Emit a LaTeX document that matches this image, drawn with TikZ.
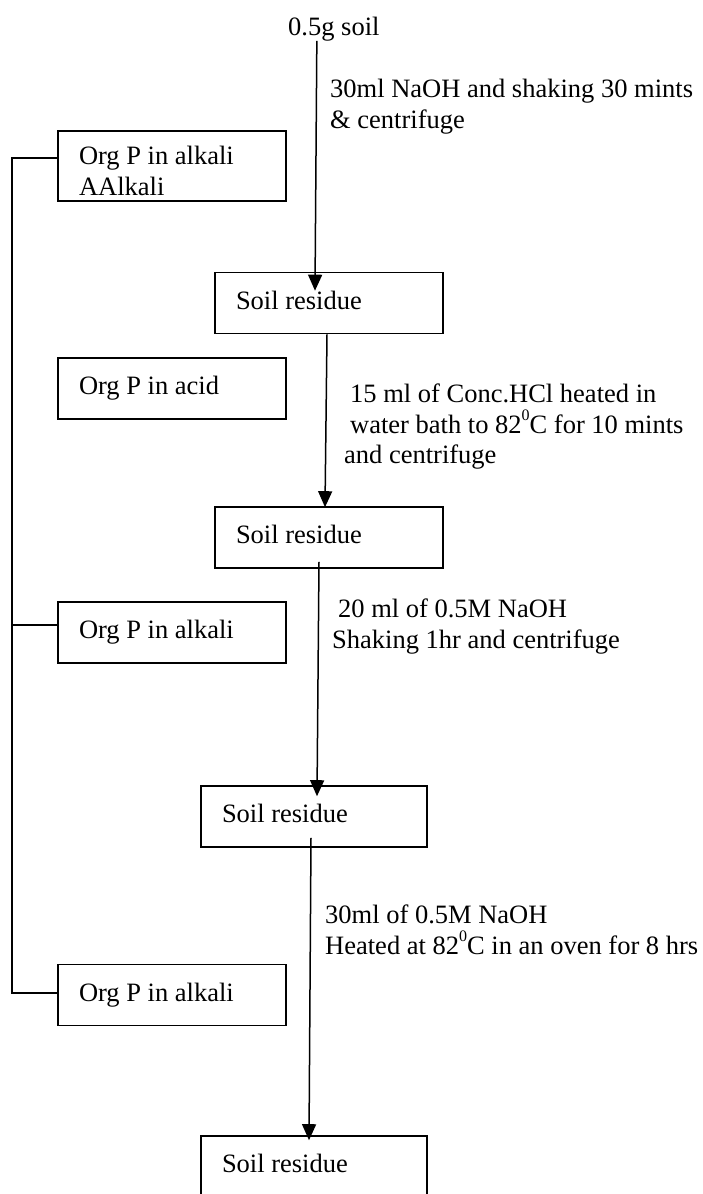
\documentclass[tikz,border=0pt]{standalone}
\usepackage{fontspec}
\setmainfont{Liberation Serif}
\usetikzlibrary{arrows.meta,calc}
\newcommand{\boxtext}[2][186pt]{\makebox[#1][l]{#2}}
\newcommand{\degzero}{\raisebox{13pt}{\fontsize{16}{16}\selectfont 0}}
\tikzset{
  pbox/.style={
    draw,
    rectangle,
    line width=1.6pt,
    inner xsep=21pt,
    inner ysep=0pt,
    align=left
  },
  onebox/.style={
    pbox,
    minimum height=61pt,
    text height=18pt,
    text depth=6pt
  },
  lab/.style={
    inner sep=0pt,
    anchor=north west,
    align=left
  },
  flow/.style={
    line width=1.5pt,
    -{Triangle[length=16pt,width=14pt]}
  },
  link/.style={
    line width=1.6pt
  },
  every node/.style={
    font=\fontsize{26.5}{30.5}\selectfont
  }
}
\begin{document}
\begin{tikzpicture}[x=1pt,y=-1pt]
\useasboundingbox (0,0) rectangle (702,1194);
\clip (0,0) rectangle (702,1194);
% residue column
\node[inner sep=0pt,anchor=base west] (soil) at (288,35) {0.5g soil};
\node[onebox] (res1) at (329,303) {\boxtext{Soil residue}};
\node[onebox] (res2) at (329,537.5) {\boxtext{Soil residue}};
\node[onebox] (res3) at (314,816.5) {\boxtext[184pt]{Soil residue}};
\node[onebox] (res4) at (314,1166.5) {\boxtext[184pt]{Soil residue}};
% extracts
\node[pbox,minimum height=70pt] (alk1) at (172,166) {\boxtext{\rule{0pt}{28pt}Org P in alkali}\\AAlkali};
\node[onebox] (acid) at (172,388.5) {\boxtext{Org P in acid}};
\node[onebox] (alk2) at (172,632.5) {\boxtext{Org P in alkali}};
\node[onebox] (alk3) at (172,995) {\boxtext{Org P in alkali}};
% steps
\node[lab] (st1) at (330,79) {30ml NaOH and shaking 30 mints\\\& centrifuge};
\node[lab] (st2) at (344,384) {\hspace*{6pt}15 ml of Conc.HCl heated in\\\hspace*{6pt}water bath to 82\degzero C for 10 mints\\and centrifuge};
\node[lab] (st3) at (332,599) {\hspace*{6pt}20 ml of 0.5M NaOH\\Shaking 1hr and centrifuge};
\node[lab] (st4) at (325,905) {30ml of 0.5M NaOH\\Heated at 82\degzero C in an oven for 8 hrs};
\draw[flow] ([xshift=-17pt]soil.south) -- ([xshift=-14pt,yshift=-19pt]res1.north);
\draw[flow] ([xshift=-2pt]res1.south) -- ([xshift=-4pt,yshift=-1pt]res2.north);
\draw[flow] ([xshift=-10pt,yshift=7pt]res2.south) -- ([xshift=3pt,yshift=-11pt]res3.north);
\draw[flow] ([xshift=-3pt,yshift=10pt]res3.south) -- ([xshift=-5pt,yshift=-5pt]res4.north);
% bracket
\draw[link] ([yshift=8pt]alk1.west) -- ++(-45,0) |- ([yshift=2pt]alk3.west);
\draw[link] ([yshift=7.5pt]alk2.west) -- ++(-45,0);
\end{tikzpicture}
\end{document}
